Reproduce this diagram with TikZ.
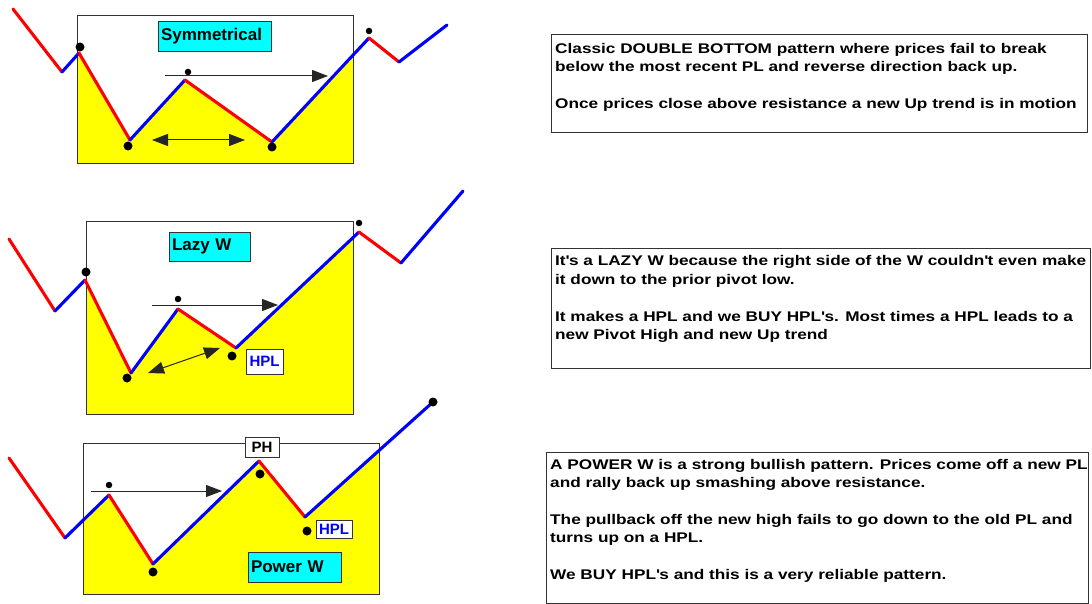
\documentclass[tikz,border=0pt]{standalone}
\usepackage{fontspec}
\setmainfont{Liberation Sans}
\newfontfamily\widefont[FakeStretch=1.23]{Liberation Sans}
\usetikzlibrary{arrows.meta}
\definecolor{ylw}{RGB}{255,255,0}
\definecolor{cyn}{RGB}{0,255,255}
\definecolor{rd}{RGB}{255,0,0}
\definecolor{bl}{RGB}{0,0,255}
\definecolor{frm}{RGB}{50,50,50}
\tikzset{
  upseg/.style={bl, line width=3.1pt, line cap=round},
  dnseg/.style={rd, line width=3.1pt, line cap=round},
  bigdot/.style={circle, fill=black, inner sep=0pt, minimum size=9pt},
  smalldot/.style={circle, fill=black, inner sep=0pt, minimum size=6.5pt},
  frame/.style={draw=frm, line width=0.8pt},
  lblbox/.style={draw=frm, line width=0.8pt, fill=cyn, inner xsep=3pt, inner ysep=0pt, align=left,
     font=\bfseries\fontsize{17}{19}\selectfont},
  tagbox/.style={draw=frm, line width=0.8pt, fill=white, inner sep=0pt, align=center,
     font=\bfseries\fontsize{15}{17}\selectfont},
  arr/.style={draw=black!85, line width=1pt, -{Triangle[length=16pt,width=12pt]}},
  dblarr/.style={draw=black!85, line width=1pt, {Triangle[length=16pt,width=12pt]}-{Triangle[length=16pt,width=12pt]}},
  txtbox/.style={draw=frm, line width=0.8pt, fill=white},
  txt/.style={anchor=north west, align=left, inner sep=0pt, font=\widefont\bfseries\fontsize{14}{18.4}\selectfont},
}
\begin{document}
\begin{tikzpicture}[x=1pt,y=-1pt]
\useasboundingbox (0,0) rectangle (1092,604);

% ---------------- Diagram 1: Symmetrical ----------------
\coordinate (a1) at (13,9);
\coordinate (a2) at (62,72);
\coordinate (a3) at (79,53);
\coordinate (a4) at (130,140);
\coordinate (a5) at (185,80);
\coordinate (a6) at (272,142);
\coordinate (a7) at (369,38);
\coordinate (a8) at (399,62);
\coordinate (a9) at (447,25);
\begin{scope}
  \clip (77,15) rectangle (353,163);
  \fill[ylw] (a1) -- (a2) -- (a3) -- (a4) -- (a5) -- (a6) -- (a7) -- (a8) -- (a9) -- (447,163) -- (13,163) -- cycle;
\end{scope}
\draw[frame] (77,15) rectangle (353,163);
\draw[dnseg] (a1) -- (a2);
\draw[upseg] (a2) -- (a3);
\draw[dnseg] (a3) -- (a4);
\draw[upseg] (a4) -- (a5);
\draw[dnseg] (a5) -- (a6);
\draw[upseg] (a6) -- (a7);
\draw[dnseg] (a7) -- (a8);
\draw[upseg] (a8) -- (a9);
\node[bigdot] (ad1) at (80,47) {};
\node[bigdot] (ad2) at (128,146) {};
\node[smalldot] (ad3) at (188,72) {};
\node[bigdot] (ad4) at (272,147) {};
\node[smalldot] (ad5) at (369,31) {};
\node[lblbox, text width=107pt, minimum height=30pt] (sym) at (214.5,36) {Symmetrical};
\coordinate (aas) at (165,76);
\coordinate (aae) at (328,76);
\draw[arr] (aas) -- (aae);
\coordinate (abs) at (152,140);
\coordinate (abe) at (245,140);
\draw[dblarr] (abs) -- (abe);

% ---------------- Diagram 2: Lazy W ----------------
\coordinate (b1) at (9,239);
\coordinate (b2) at (55,311);
\coordinate (b3) at (85,280);
\coordinate (b4) at (131,373);
\coordinate (b5) at (178,309);
\coordinate (b6) at (236,348);
\coordinate (b7) at (359,232);
\coordinate (b8) at (401,263);
\coordinate (b9) at (463,191);
\begin{scope}
  \clip (86,221) rectangle (353,414);
  \fill[ylw] (b1) -- (b2) -- (b3) -- (b4) -- (b5) -- (b6) -- (b7) -- (b8) -- (b9) -- (463,414) -- (9,414) -- cycle;
\end{scope}
\draw[frame] (86,221) rectangle (353,414);
\draw[dnseg] (b1) -- (b2);
\draw[upseg] (b2) -- (b3);
\draw[dnseg] (b3) -- (b4);
\draw[upseg] (b4) -- (b5);
\draw[dnseg] (b5) -- (b6);
\draw[upseg] (b6) -- (b7);
\draw[dnseg] (b7) -- (b8);
\draw[upseg] (b8) -- (b9);
\node[bigdot] (bd1) at (86,272) {};
\node[bigdot] (bd2) at (127,378) {};
\node[smalldot] (bd3) at (178,299) {};
\node[bigdot] (bd4) at (232,356) {};
\node[smalldot] (bd5) at (359,223) {};
\node[lblbox, text width=75pt, minimum height=29pt] (lazy) at (209.5,246.5) {Lazy W};
\node[tagbox, text=bl, minimum width=37pt, minimum height=25pt] (hpl2) at (264.5,361.5) {HPL};
\coordinate (bas) at (152,305);
\coordinate (bae) at (278,305);
\draw[arr] (bas) -- (bae);
\coordinate (bbs) at (148,373);
\coordinate (bbe) at (220,348);
\draw[dblarr] (bbs) -- (bbe);

% ---------------- Diagram 3: Power W ----------------
\coordinate (c1) at (9,458);
\coordinate (c2) at (65,538);
\coordinate (c3) at (109,495);
\coordinate (c4) at (153,564);
\coordinate (c5) at (259,461);
\coordinate (c6) at (305,517);
\coordinate (c7) at (433,402);
\begin{scope}
  \clip (83,443) rectangle (379,594);
  \fill[ylw] (c1) -- (c2) -- (c3) -- (c4) -- (c5) -- (c6) -- (c7) -- (433,594) -- (9,594) -- cycle;
\end{scope}
\draw[frame] (83,443) rectangle (379,594);
\draw[dnseg] (c1) -- (c2);
\draw[upseg] (c2) -- (c3);
\draw[dnseg] (c3) -- (c4);
\draw[upseg] (c4) -- (c5);
\draw[dnseg] (c5) -- (c6);
\draw[upseg] (c6) -- (c7);
\node[smalldot] (cd1) at (109,485) {};
\node[bigdot] (cd2) at (153,572) {};
\node[bigdot] (cd3) at (260,474) {};
\node[bigdot] (cd4) at (307,531) {};
\node[bigdot] (cd5) at (433,402) {};
\node[tagbox, minimum width=34pt, minimum height=20pt] (ph) at (262,447) {PH};
\node[tagbox, text=bl, minimum width=36pt, minimum height=18pt] (hpl3) at (334,529) {HPL};
\node[lblbox, text width=87pt, minimum height=30pt] (power) at (294.5,567) {Power W};
\coordinate (cas) at (91,491);
\coordinate (cae) at (222,491);
\draw[arr] (cas) -- (cae);

% ---------------- Text boxes ----------------
\draw[txtbox] (551,34) rectangle (1087,132);
\node[txt] (t1) at (555,42.8) {Classic DOUBLE BOTTOM pattern where prices fail to break\\
below the most recent PL and reverse direction back up.\\[18.4pt]
Once prices close above resistance a new Up trend is in motion};

\draw[txtbox] (551,248) rectangle (1090,368);
\node[txt] (t2) at (555,255.5) {It\textquotesingle s a LAZY W because the right side of the W couldn\textquotesingle t even make\\
it down to the prior pivot low.\\[18.4pt]
It makes a HPL and we BUY HPL\textquotesingle s. Most times a HPL leads to a\\
new Pivot High and new Up trend};

\draw[txtbox] (546,452) rectangle (1088,603);
\node[txt] (t3) at (550,458.8) {A POWER W is a strong bullish pattern. Prices come off a new PL\\
and rally back up smashing above resistance.\\[18.4pt]
The pullback off the new high fails to go down to the old PL and\\
turns up on a HPL.\\[18.4pt]
We BUY HPL\textquotesingle s and this is a very reliable pattern.};
\end{tikzpicture}
\end{document}
